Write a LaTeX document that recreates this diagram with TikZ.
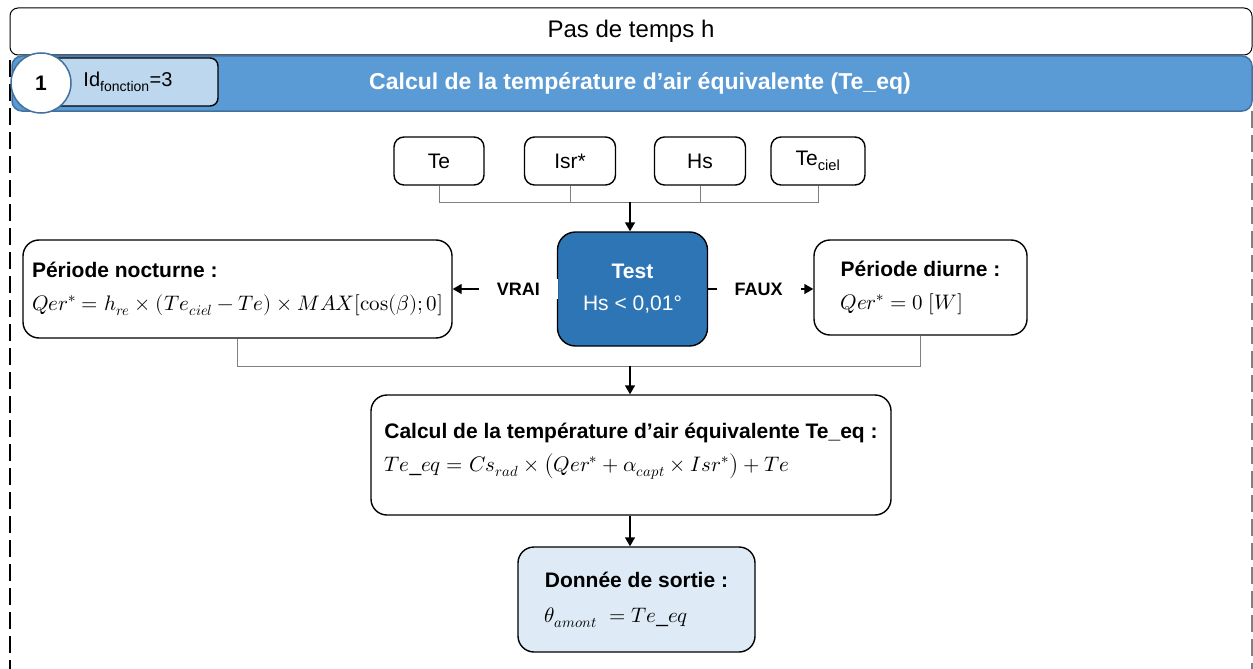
\documentclass[tikz,border=0pt]{standalone}
\usepackage{fontspec}
\usepackage{unicode-math}
\setmainfont{Liberation Sans}
\setmathfont{Latin Modern Math}
\usetikzlibrary{arrows.meta}

\definecolor{banblue}{HTML}{5B9BD5}
\definecolor{banedge}{HTML}{41719C}
\definecolor{idblue}{HTML}{BDD7EE}
\definecolor{testblue}{HTML}{2E75B6}
\definecolor{outblue}{HTML}{DEEBF7}

\tikzset{
  box/.style={draw, line width=1.4pt, rounded corners=10pt, fill=white},
  inbox/.style={box, minimum height=48pt, font=\fontsize{21}{24}\selectfont},
  txtbox/.style={box, rounded corners=16pt, align=left, font=\fontsize{21}{25}\selectfont},
  bus/.style={draw=gray, line width=1pt},
  flow/.style={line width=1.4pt, -{Triangle[length=9pt,width=10pt]}},
  yesno/.style={fill=white, inner xsep=18pt, font=\bfseries\fontsize{18}{20}\selectfont}
}

\begin{document}
\begin{tikzpicture}[x=1pt,y=-1pt]
\useasboundingbox (0,0) rectangle (1253,669);

% en-tete
\node[draw, line width=1pt, rounded corners=8pt, minimum width=1242pt, minimum height=47pt,
      font=\fontsize{24}{26}\selectfont] (pas) at (631,31.5) {Pas de temps h};

\draw[line width=1.4pt, dash pattern=on 17pt off 7pt] (10,60) -- (10,669);
\draw[gray, line width=1.2pt, dash pattern=on 17pt off 7pt] (1252,111) -- (1252,669);

\node[draw=banedge, fill=banblue, line width=1.5pt, rounded corners=10pt, minimum width=1240pt,
      minimum height=55pt, text=white, font=\bfseries\fontsize{23}{26}\selectfont]
      (banner) at (632,83.5) {\hspace*{16pt}Calcul de la température d’air équivalente (Te\_eq)};

\node[draw, line width=1.4pt, fill=idblue, rounded corners=8pt, minimum width=180pt,
      minimum height=48pt, font=\fontsize{20}{24}\selectfont] (idf) at (128,82)
      {Id\textsubscript{fonction}=3};
\node[circle, draw=banedge, fill=white, line width=1.5pt, minimum size=60pt,
      font=\bfseries\fontsize{21}{24}\selectfont] (num) at (41,83) {1};

% entrees
\node[inbox, minimum width=90pt] (te) at (439,161) {Te};
\node[inbox, minimum width=91pt] (isr) at (570,161) {Isr*};
\node[inbox, minimum width=91pt] (hs) at (700,161) {Hs};
\node[inbox, minimum width=94pt] (tec) at (818,161) {Te\textsubscript{ciel}};

\coordinate (bus1) at (630,202);
\coordinate (bus2) at (630,366);

\node[box, fill=testblue, rounded corners=18pt, minimum width=150pt, minimum height=114pt,
      text=white, align=center, font=\fontsize{21}{24}\selectfont] (test) at (632.5,289)
      {\textbf{Test}\\[8pt]Hs < 0,01°};

\node[txtbox, minimum width=429pt, minimum height=98pt] (noct) at (237.5,289)
      {\textbf{Période nocturne :}\\[8pt]
       $Qer^{*}=h_{re}\times(Te_{ciel}-Te)\times MAX[\symup{cos}(\beta);0]$};
\node[txtbox, minimum width=213pt, minimum height=95pt] (diur) at (920.5,287.5)
      {\textbf{Période diurne :}\\[8pt]$Qer^{*}=0\ [W]$};

\node[txtbox, minimum width=520pt, minimum height=120pt] (calc) at (631,455)
      {\textbf{Calcul de la température d’air équivalente Te\_eq :}\\[8pt]
       $Te\_eq=Cs_{rad}\times\left(Qer^{*}+\alpha_{capt}\times Isr^{*}\right)+Te$\\[-9pt]};
\node[txtbox, fill=outblue, minimum width=237pt, minimum height=105pt] (out) at (636.5,599.5)
      {\textbf{Donnée de sortie :}\\[10pt]$\theta_{amont}\ =Te\_eq$};

\draw[bus] (te.south) -- (te.south |- bus1) -- (tec.south |- bus1) -- (tec.south);
\draw[bus] (isr.south) -- (isr.south |- bus1);
\draw[bus] (hs.south) -- (hs.south |- bus1);
\draw[flow] (bus1) -- (test.north -| bus1);

\draw[flow] (test.west) -- node[yesno, pos=0.37] (vrai) {VRAI} (test.west -| noct.east);
\draw[flow] (test.east) -- node[yesno, pos=0.48] (faux) {FAUX} (test.east -| diur.west);

\draw[bus] (noct.south) -- (noct.south |- bus2) -- (diur.south |- bus2) -- (diur.south);
\draw[flow] (bus2) -- (calc.north -| bus2);
\draw[flow] (calc.south -| bus2) -- (out.north -| bus2);

\end{tikzpicture}
\end{document}
